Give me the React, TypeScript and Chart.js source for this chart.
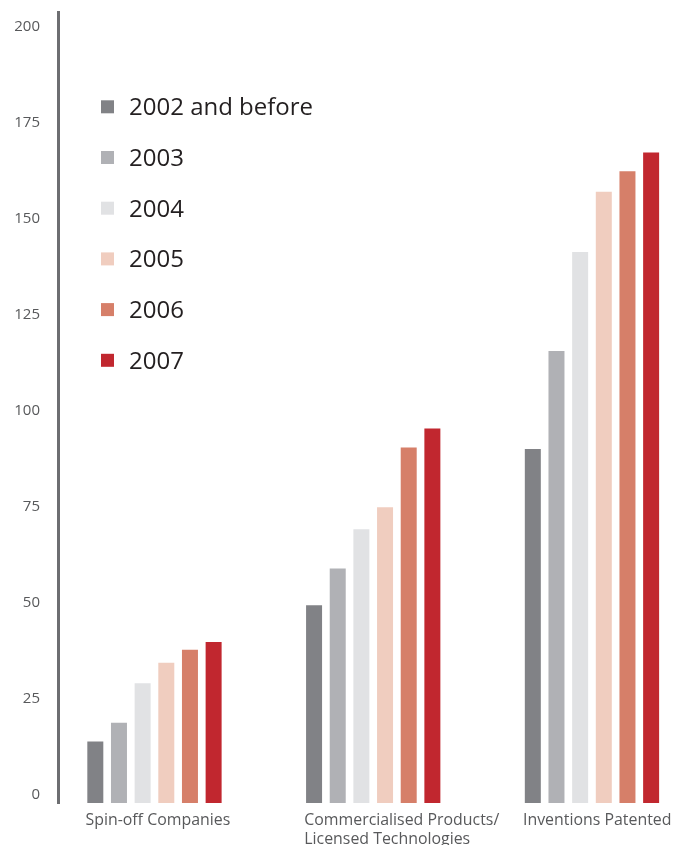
import React, { useEffect, useRef } from "react";
import { Chart, registerables } from "chart.js";

Chart.register(...registerables);

// ---- Data ----
const categories: string[][] = [
  ["Spin-off Companies"],
  ["Commercialised Products/", "Licensed Technologies"],
  ["Inventions Patented"],
];
const categoryPositions = [0, 1, 2];

const seriesNames = ["2002 and before", "2003", "2004", "2005", "2006", "2007"];
const seriesColors = ["#818286", "#b0b1b5", "#e1e2e4", "#f0cdbf", "#d67f69", "#c1272f"];

const values2002 = [13.8, 49.3, 90.0];
const values2003 = [18.7, 58.9, 115.5];
const values2004 = [29.0, 69.1, 141.3];
const values2005 = [34.3, 74.8, 157.0];
const values2006 = [37.7, 90.4, 162.3];
const values2007 = [39.7, 95.3, 167.2];
const allSeries = [values2002, values2003, values2004, values2005, values2006, values2007];

const yTicks = [0, 25, 50, 75, 100, 125, 150, 175, 200];
const Y_MIN = -2.2;
const Y_MAX = 203.8;
const X_MIN = -0.441;
const X_MAX = 2.375;

const FONT = "'Open Sans', 'Noto Sans', sans-serif";

const insideLegend = {
  id: "insideLegend",
  afterDraw(chart: any) {
    const { ctx, chartArea } = chart;
    ctx.save();
    ctx.font = `24px ${FONT}`;
    ctx.textBaseline = "middle";
    ctx.textAlign = "left";
    chart.data.datasets.forEach((ds: any, i: number) => {
      const cy = chartArea.top + 94.8 + i * 50.7;
      ctx.fillStyle = ds.backgroundColor;
      ctx.fillRect(chartArea.left + 43, cy - 6.5, 13, 13);
      ctx.fillStyle = "#231f20";
      ctx.fillText(ds.label, chartArea.left + 71, cy + 1.5);
    });
    ctx.restore();
  },
};

export default function App() {
  const ref = useRef<HTMLCanvasElement>(null);

  useEffect(() => {
    if (!ref.current) return;
    Chart.defaults.font.family = FONT;
    const chart = new Chart(ref.current, {
      type: "bar",
      data: {
        datasets: allSeries.map((vals, i) => ({
          label: seriesNames[i],
          data: categoryPositions.map((x, j) => ({ x, y: vals[j] })),
          backgroundColor: seriesColors[i],
          borderWidth: 0,
          base: Y_MIN,
          categoryPercentage: 0.649,
          barPercentage: 0.676,
        })),
      },
      options: {
        responsive: false,
        animation: false,
        layout: { padding: { top: 12, left: 0, right: 0, bottom: 0 } },
        plugins: {
          legend: { display: false },
          tooltip: { enabled: false },
        },
        scales: {
          x: {
            type: "linear",
            offset: false,
            min: X_MIN,
            max: X_MAX,
            grid: { display: false, drawTicks: false, offset: false },
            border: { display: false },
            afterBuildTicks: (s: any) => {
              s.ticks = categoryPositions.map((v) => ({ value: v }));
            },
            afterFit: (s: any) => {
              s.height = 42;
              s.paddingLeft = 0;
              s.paddingRight = 0;
            },
            ticks: {
              autoSkip: false,
              maxRotation: 0,
              minRotation: 0,
              align: "start",
              labelOffset: -69,
              padding: 7.25,
              color: "#58595b",
              font: { size: 15.9, lineHeight: 1.23 },
              callback: (_v: any, index: number) => categories[index],
            },
          },
          y: {
            min: Y_MIN,
            max: Y_MAX,
            grid: { display: false, drawTicks: false },
            border: { display: true, color: "#6d6e71", width: 3 },
            afterBuildTicks: (s: any) => {
              s.ticks = yTicks.map((v) => ({ value: v }));
            },
            afterFit: (s: any) => {
              s.width = 58;
              s.paddingTop = 0;
              s.paddingBottom = 0;
            },
            ticks: {
              padding: 18,
              color: "#58595b",
              font: { size: 15 },
            },
          },
        },
      },
      plugins: [insideLegend],
    } as any);
    return () => chart.destroy();
  }, []);

  return (
    <div style={{ position: "fixed", left: 0, top: 0, width: 674, height: 845, background: "#fff" }}>
      <canvas ref={ref} width={674} height={845} style={{ display: "block" }} />
    </div>
  );
}
